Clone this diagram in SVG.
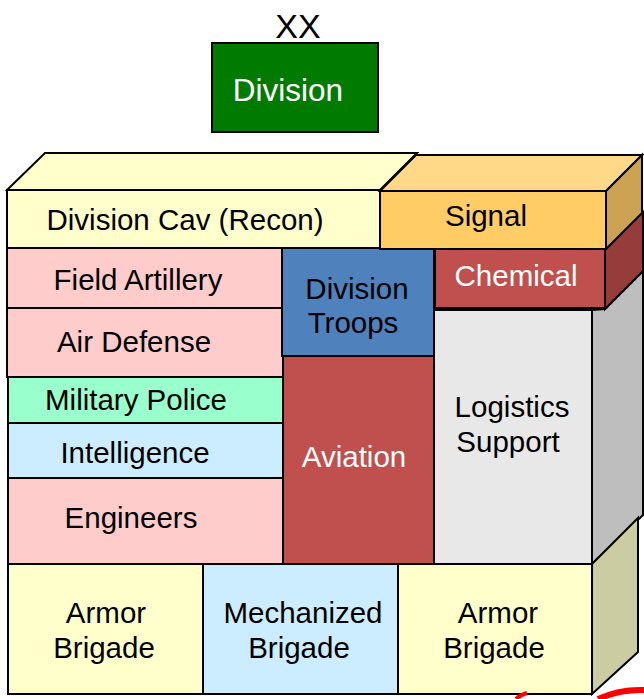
<svg xmlns="http://www.w3.org/2000/svg" width="644" height="699" viewBox="0 0 644 699">
<style>
.b{stroke:#000;stroke-width:2;stroke-linejoin:miter}
.t{font-family:"Liberation Sans",Arial,sans-serif;font-size:29.5px;text-anchor:middle;fill:#000}
.w{fill:#fff}
</style>
<rect width="644" height="699" fill="#fff"/>
<g id="division">
<text class="t" x="298" y="38" style="font-size:34px">XX</text>
<rect class="b" x="212" y="43" width="166" height="89" fill="#007A00"/>
<text class="t w" x="288" y="101" style="font-size:31.5px">Division</text>
</g>
<g id="cav">
<polygon class="b" points="7,190 45,153 417,153 380,190" fill="#FFFFCC"/>
<rect class="b" x="7" y="190" width="373" height="58" fill="#FFFFCC"/>
<text class="t" x="185" y="230">Division Cav (Recon)</text>
</g>
<g id="field-artillery">
<rect class="b" x="7" y="248" width="276" height="60" fill="#FFCCCC"/>
<text class="t" x="138" y="290">Field Artillery</text>
</g>
<g id="air-defense">
<rect class="b" x="7" y="308" width="276" height="69" fill="#FFCCCC"/>
<text class="t" x="134" y="352">Air Defense</text>
</g>
<g id="military-police">
<rect class="b" x="8" y="377" width="275" height="46" fill="#99FFCC"/>
<text class="t" x="136" y="410">Military Police</text>
</g>
<g id="intelligence">
<rect class="b" x="8" y="423" width="275" height="55" fill="#CCECFF"/>
<text class="t" x="135" y="463">Intelligence</text>
</g>
<g id="engineers">
<rect class="b" x="8" y="478" width="275" height="86" fill="#FFCCCC"/>
<text class="t" x="131" y="528">Engineers</text>
</g>
<g id="division-troops">
<rect class="b" x="282" y="248" width="152" height="108" fill="#4F81BD"/>
<text class="t" x="357" y="299">Division</text>
<text class="t" x="353" y="333">Troops</text>
</g>
<g id="aviation">
<rect class="b" x="283" y="356" width="151" height="208" fill="#C0504D"/>
<text class="t w" x="354" y="467">Aviation</text>
</g>
<g id="logistics">
<polygon class="b" points="592,310 605,309 643,271 643,515 592,564" fill="#BEBEBE"/>
<rect class="b" x="434" y="310" width="158" height="254" fill="#E8E8E8"/>
<text class="t" x="512" y="417">Logistics</text>
<text class="t" x="508" y="452">Support</text>
</g>
<g id="chemical">
<polygon class="b" points="605,249 643,212 643,271 605,309" fill="#963C3A"/>
<rect class="b" x="435" y="249" width="170" height="59" fill="#C0504D"/>
<text class="t w" x="516" y="286">Chemical</text>
</g>
<g id="signal">
<polygon class="b" points="380,191 416,155 642,155 606,191" fill="#FFD988"/>
<polygon class="b" points="606,191 642,155 642,213 606,249" fill="#CCA352"/>
<rect class="b" x="380" y="191" width="226" height="58" fill="#FFCC66"/>
<text class="t" x="486" y="226">Signal</text>
</g>
<g id="brigades-side">
<polygon class="b" points="592,564 638,518 638,652 592,694" fill="#CCCCA3"/>
</g>
<g id="armor-brigade-1">
<rect class="b" x="8" y="564" width="195" height="130" fill="#FFFFCC"/>
<text class="t" x="106" y="623">Armor</text>
<text class="t" x="104" y="658">Brigade</text>
</g>
<g id="mechanized-brigade">
<rect class="b" x="203" y="564" width="195" height="130" fill="#CCECFF"/>
<text class="t" x="303" y="623">Mechanized</text>
<text class="t" x="299" y="658">Brigade</text>
</g>
<g id="armor-brigade-2">
<rect class="b" x="398" y="564" width="194" height="130" fill="#FFFFCC"/>
<text class="t" x="498" y="623">Armor</text>
<text class="t" x="494" y="658">Brigade</text>
</g>
<g id="connectors"></g>
<path d="M516,699 Q520,695 527,693" fill="none" stroke="#FF0000" stroke-width="4"/>
<path d="M598,699 Q620,689 644,690" fill="none" stroke="#FF0000" stroke-width="6"/>
</svg>
